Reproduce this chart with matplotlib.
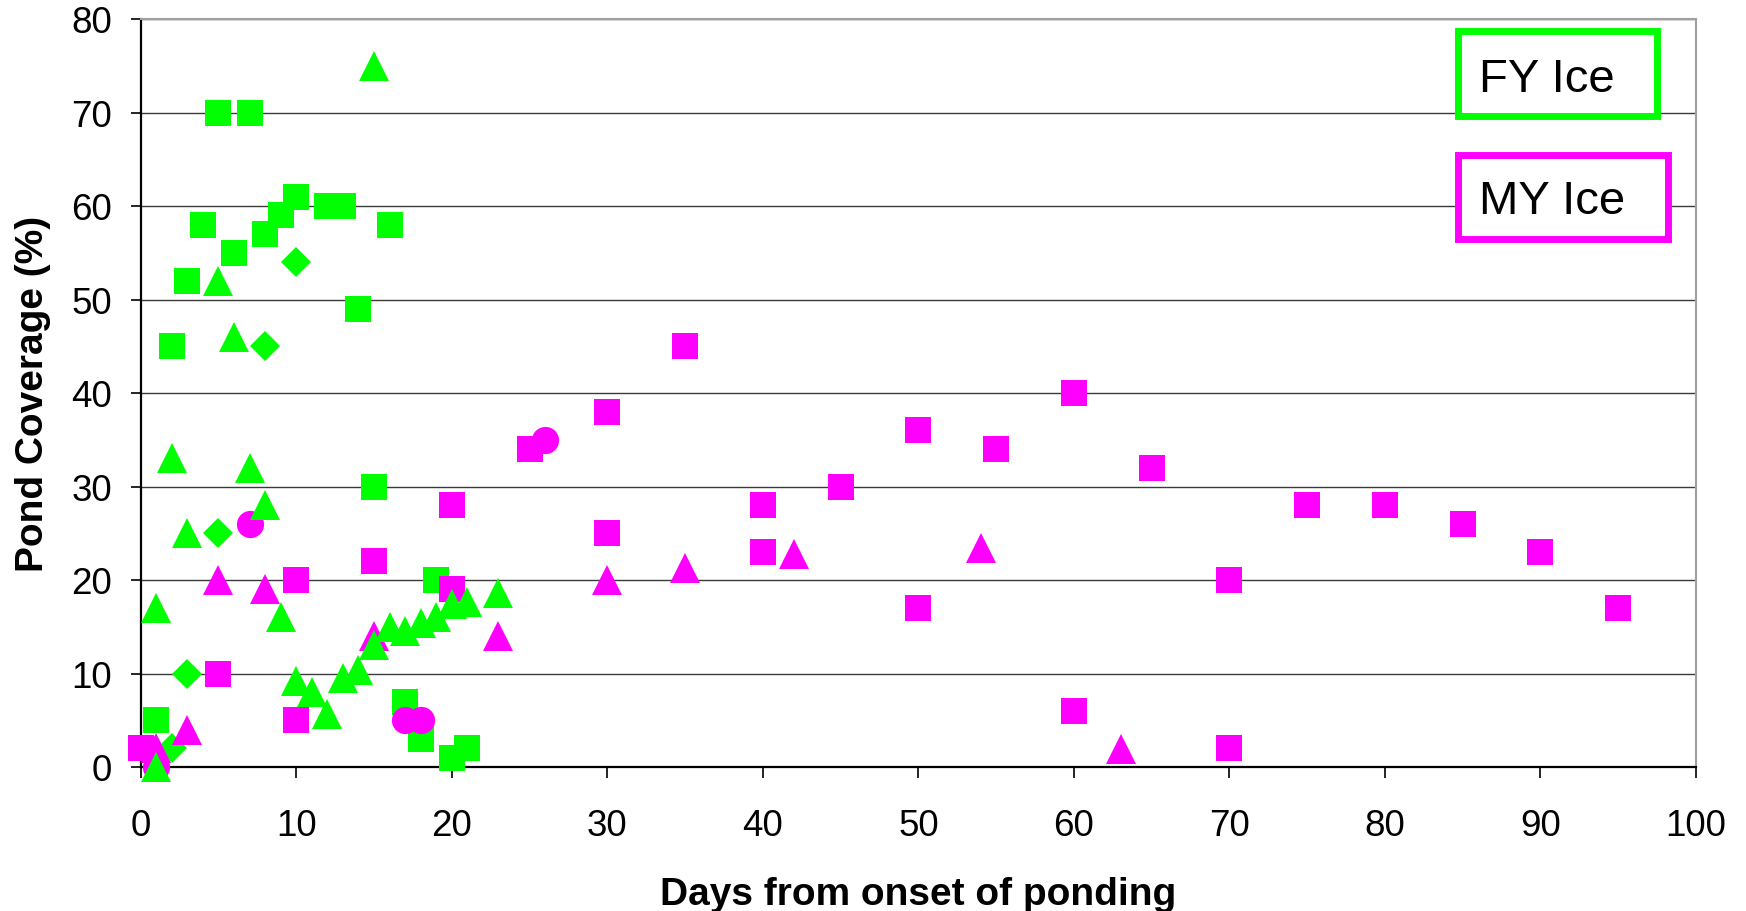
import matplotlib
matplotlib.use("Agg")
import matplotlib.pyplot as plt
from matplotlib.patches import Rectangle

plt.rcParams['font.family'] = ['Liberation Sans', 'DejaVu Sans']

# first-year ice
fy_sq_x = [1, 2, 3, 4, 5, 6, 7, 8, 9, 10, 12, 13, 14, 15, 16, 17, 18, 19, 20, 21]
fy_sq_y = [5, 45, 52, 58, 70, 55, 70, 57, 59, 61, 60, 60, 49, 30, 58, 7, 3, 20, 1, 2]
fy_tri_x = [1, 1, 2, 3, 5, 6, 7, 8, 9, 10, 11, 12, 13, 14, 15, 15, 16, 17, 18, 19, 20, 21, 23]
fy_tri_y = [0, 17, 33, 25, 52, 46, 32, 28, 16, 9.2, 8, 5.7, 9.5, 10.4, 13, 75, 15, 14.5, 15.4, 16, 17.4, 17.7, 18.6]
fy_dia_x = [2, 3, 5, 8, 10]
fy_dia_y = [2, 10, 25, 45, 54]

# multi-year ice
my_sq_x = [0, 5, 10, 10, 15, 20, 20, 25, 30, 30, 35, 40, 40, 45, 50, 50, 55, 60, 60, 65, 70, 70, 75, 80, 85, 90, 95]
my_sq_y = [2, 10, 5, 20, 22, 28, 19, 34, 38, 25, 45, 28, 23, 30, 36, 17, 34, 40, 6, 32, 20, 2, 28, 28, 26, 23, 17]
my_tri_x = [1, 3, 5, 8, 15, 23, 30, 35, 42, 54, 63]
my_tri_y = [2, 4, 20, 19, 14, 14, 20, 21.3, 22.8, 23.4, 1.9]
my_circ_x = [1, 7, 17, 18, 26]
my_circ_y = [0, 26, 5, 5, 35]

x_ticks = [0, 10, 20, 30, 40, 50, 60, 70, 80, 90, 100]
y_ticks = [0, 10, 20, 30, 40, 50, 60, 70, 80]

GREEN = '#00FF00'
MAGENTA = '#FF00FF'

W, H = 1746, 912
fig = plt.figure(figsize=(W / 100, H / 100), dpi=100)
ax = fig.add_axes([140.7 / W, 1 - 768 / H, (1696 - 140.7) / W, (768 - 20) / H])

kw = dict(linestyle='none', clip_on=False, markeredgewidth=0)
ax.plot(fy_sq_x, fy_sq_y, 's', color=GREEN, ms=19.4, zorder=3.0, **kw)
ax.plot(fy_dia_x, fy_dia_y, 'D', color=GREEN, ms=14.8, zorder=3.0, **kw)
ax.plot(my_sq_x, my_sq_y, 's', color=MAGENTA, ms=19.0, zorder=3.1, **kw)
ax.plot(my_tri_x, my_tri_y, '^', color=MAGENTA, ms=21.5, zorder=3.2, **kw)
ax.plot(my_circ_x, my_circ_y, 'o', color=MAGENTA, ms=19.6, zorder=3.3, **kw)
ax.plot(fy_tri_x, fy_tri_y, '^', color=GREEN, ms=21.5, zorder=3.4, **kw)

ax.set_xlim(0, 100)
ax.set_ylim(0, 80)
ax.set_xticks(x_ticks)
ax.set_yticks(y_ticks)
ax.yaxis.grid(True, color='#3a3a3a', linewidth=1.0)
ax.set_axisbelow(True)

for side in ['top', 'right']:
    ax.spines[side].set_color('#a0a0a0')
    ax.spines[side].set_linewidth(1.5)
for side in ['left', 'bottom']:
    ax.spines[side].set_color('black')
    ax.spines[side].set_linewidth(1.6)
    ax.spines[side].set_zorder(2.5)

ax.tick_params(axis='y', direction='out', length=7.5, width=1.2, pad=13, labelsize=26.5)
ax.tick_params(axis='x', direction='out', length=8, width=1.2, pad=21.5, labelsize=26.5)

ax.set_xlabel('Days from onset of ponding', fontsize=28, fontweight='bold')
ax.set_ylabel('Pond Coverage (%)', fontsize=28, fontweight='bold')
ax.xaxis.set_label_coords(0.5, -0.146)
ax.yaxis.set_label_coords(-0.0577, 0.5)


def px_box(x0, y0, x1, y1):
    # pixel box (from top-left) to figure fraction rectangle
    return (x0 / W, 1 - y1 / H), (x1 - x0) / W, (y1 - y0) / H


for label, color, box, base in [('FY Ice', GREEN, (1457.5, 31.5, 1656.5, 116.5), 91.5),
                                ('MY Ice', MAGENTA, (1457.5, 155.5, 1667.5, 239.5), 214.3)]:
    xy, w, h = px_box(*box)
    fig.patches.append(Rectangle(xy, w, h, transform=fig.transFigure, facecolor='white',
                                 edgecolor=color, linewidth=5, zorder=5))
    fig.text(1479 / W, 1 - base / H, label, fontsize=34, ha='left', va='baseline', zorder=6)

fig.savefig('out.png', dpi=100)
